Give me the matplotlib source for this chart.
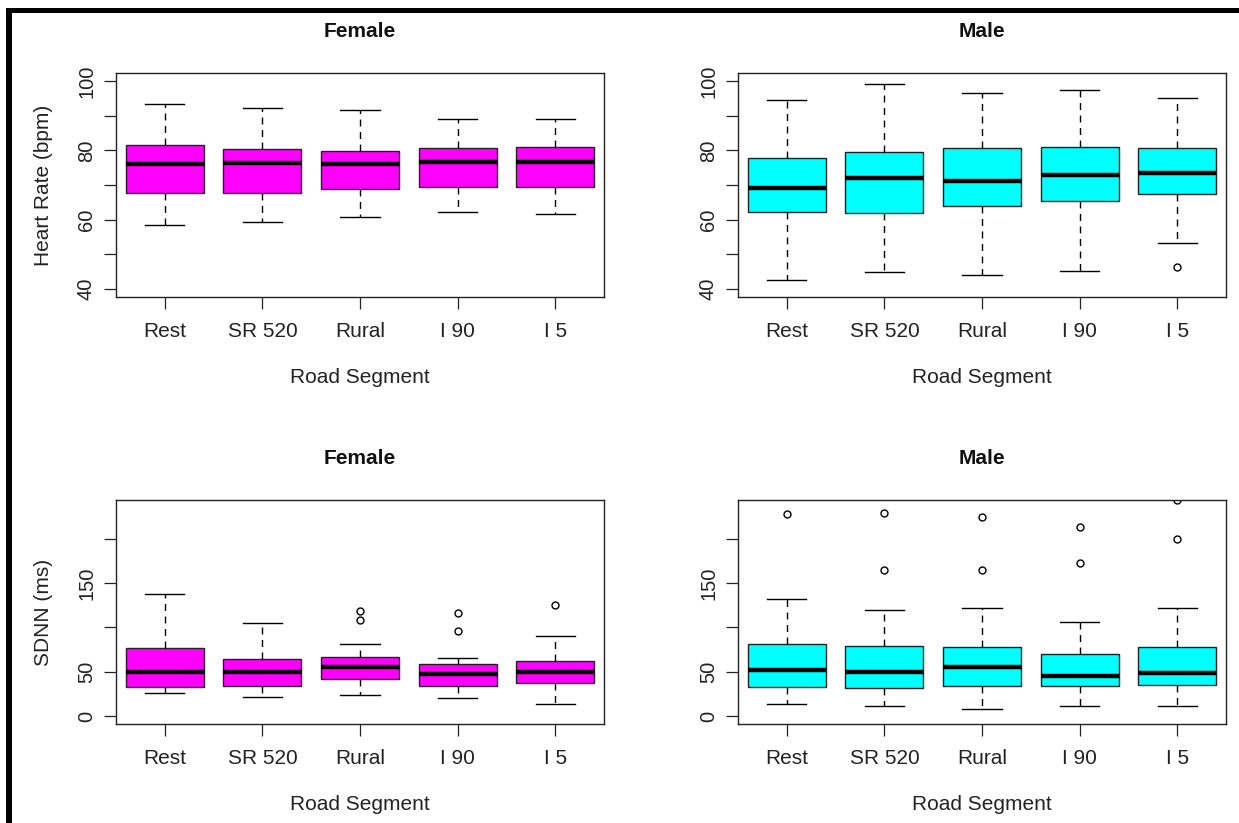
import matplotlib
matplotlib.use("Agg")
import matplotlib.pyplot as plt
from matplotlib.patches import Rectangle

plt.rcParams['font.family'] = ['Liberation Sans', 'DejaVu Sans']

segments = ["Rest", "SR 520", "Rural", "I 90", "I 5"]

# Heart rate - Female
hr_f_whislo = [58.4, 59.2, 60.7, 62.1, 61.6]
hr_f_q1 = [67.8, 67.8, 68.7, 69.5, 69.5]
hr_f_med = [76.0, 76.4, 76.1, 76.7, 76.7]
hr_f_q3 = [81.5, 80.4, 79.9, 80.7, 81.1]
hr_f_whishi = [93.5, 92.4, 91.6, 89.1, 89.1]
hr_f_fliers = [[], [], [], [], []]

# Heart rate - Male
hr_m_whislo = [42.4, 44.7, 43.9, 45.2, 53.2]
hr_m_q1 = [62.3, 62.0, 64.0, 65.5, 67.3]
hr_m_med = [69.1, 72.0, 71.2, 72.8, 73.6]
hr_m_q3 = [77.9, 79.5, 80.7, 81.1, 80.7]
hr_m_whishi = [94.7, 99.1, 96.7, 97.5, 95.1]
hr_m_fliers = [[], [], [], [], [46.4]]

# SDNN - Female
sd_f_whislo = [26.3, 21.8, 23.3, 20.3, 13.5]
sd_f_q1 = [32.3, 33.8, 42.1, 33.8, 36.8]
sd_f_med = [50.0, 50.0, 54.9, 47.0, 49.2]
sd_f_q3 = [76.3, 63.9, 66.9, 59.0, 62.4]
sd_f_whishi = [137.6, 104.5, 81.2, 65.4, 90.2]
sd_f_fliers = [[], [], [118.8, 108.3], [116.5, 96.2], [124.8]]

# SDNN - Male
sd_m_whislo = [13.9, 10.9, 7.5, 10.9, 10.9]
sd_m_q1 = [32.3, 31.2, 33.8, 33.8, 35.3]
sd_m_med = [51.5, 50.0, 54.9, 45.5, 48.5]
sd_m_q3 = [80.8, 79.3, 77.8, 69.9, 77.8]
sd_m_whishi = [132.3, 119.9, 121.4, 106.0, 121.4]
sd_m_fliers = [[227.4], [228.9, 165.0], [224.4, 165.0], [213.5, 172.9], [199.6, 243.6]]

hr_ticks = [40, 50, 60, 70, 80, 90, 100]
hr_labels = ["40", "", "60", "", "80", "", "100"]
sd_ticks = [0, 50, 100, 150, 200]
sd_labels = ["0", "50", "", "150", ""]

MAGENTA = "#FF00FF"
CYAN = "#00FFFF"

W, H = 1239, 823
fig = plt.figure(figsize=(W / 100, H / 100), dpi=100)
fig.patch.set_facecolor("white")


def make_stats(lo, q1, med, q3, hi, fl):
    return [dict(whislo=a, q1=b, med=c, q3=d, whishi=e, fliers=f, label=s)
            for a, b, c, d, e, f, s in zip(lo, q1, med, q3, hi, fl, segments)]


def panel(rect, stats, color, title, ylim, ticks, labels, ylabel=None):
    ax = fig.add_axes(rect)
    ax.bxp(stats, positions=range(1, 6), widths=0.8, patch_artist=True,
           capwidths=0.4,
           boxprops=dict(facecolor=color, edgecolor="#222222", linewidth=1.0),
           medianprops=dict(color="black", linewidth=3.2, solid_capstyle="butt"),
           whiskerprops=dict(color="black", linewidth=1.0, linestyle=(0, (5, 4))),
           capprops=dict(color="black", linewidth=1.0),
           flierprops=dict(marker="o", markerfacecolor="none", markeredgecolor="black",
                           markersize=5, markeredgewidth=1.0, linestyle="none"))
    ax.set_xlim(0.5, 5.5)
    ax.set_ylim(*ylim)
    ax.set_xticks(range(1, 6))
    ax.set_xticklabels(segments, fontsize=15, color="#222222")
    ax.set_yticks(ticks)
    ax.set_yticklabels(labels, rotation=90, va="center", fontsize=14.5, color="#222222")
    ax.tick_params(axis="both", direction="out", length=8.4, width=0.9, color="#222222")
    ax.tick_params(axis="x", pad=9.5)
    ax.tick_params(axis="y", pad=6)
    for sp in ax.spines.values():
        sp.set_linewidth(1.0)
        sp.set_color("#222222")
    ax.set_title(title, fontsize=15, fontweight="bold", pad=26, color="#111111")
    ax.set_xlabel("Road Segment", fontsize=15, color="#222222")
    ax.xaxis.set_label_coords(0.5, -0.36)
    ax.xaxis.label.set_verticalalignment("center")
    if ylabel:
        ax.set_ylabel(ylabel, fontsize=15, color="#222222")
        ax.yaxis.set_label_coords(-0.148, 0.5)
        ax.yaxis.label.set_verticalalignment("center")
    return ax


aw = 488 / W
ah = 224 / H
lx = 116 / W
rx = 738 / W
ty = 1 - 297 / H
by = 1 - 724 / H

panel([lx, ty, aw, ah], make_stats(hr_f_whislo, hr_f_q1, hr_f_med, hr_f_q3, hr_f_whishi, hr_f_fliers),
      MAGENTA, "Female", (37.6, 102.4), hr_ticks, hr_labels, "Heart Rate (bpm)")
panel([rx, ty, aw, ah], make_stats(hr_m_whislo, hr_m_q1, hr_m_med, hr_m_q3, hr_m_whishi, hr_m_fliers),
      CYAN, "Male", (37.6, 102.4), hr_ticks, hr_labels)
panel([lx, by, aw, ah], make_stats(sd_f_whislo, sd_f_q1, sd_f_med, sd_f_q3, sd_f_whishi, sd_f_fliers),
      MAGENTA, "Female", (-9.0, 243.7), sd_ticks, sd_labels, "SDNN (ms)")
panel([rx, by, aw, ah], make_stats(sd_m_whislo, sd_m_q1, sd_m_med, sd_m_q3, sd_m_whishi, sd_m_fliers),
      CYAN, "Male", (-9.0, 243.7), sd_ticks, sd_labels)

# black frame on top and left edges of the image
fig.add_artist(Rectangle((6 / W, 0), 6 / W, 1 - 8 / H, transform=fig.transFigure,
                         facecolor="black", edgecolor="none"))
fig.add_artist(Rectangle((6 / W, 1 - 13 / H), 1 - 6 / W, 5 / H, transform=fig.transFigure,
                         facecolor="black", edgecolor="none"))

fig.savefig("out.png", dpi=100)
